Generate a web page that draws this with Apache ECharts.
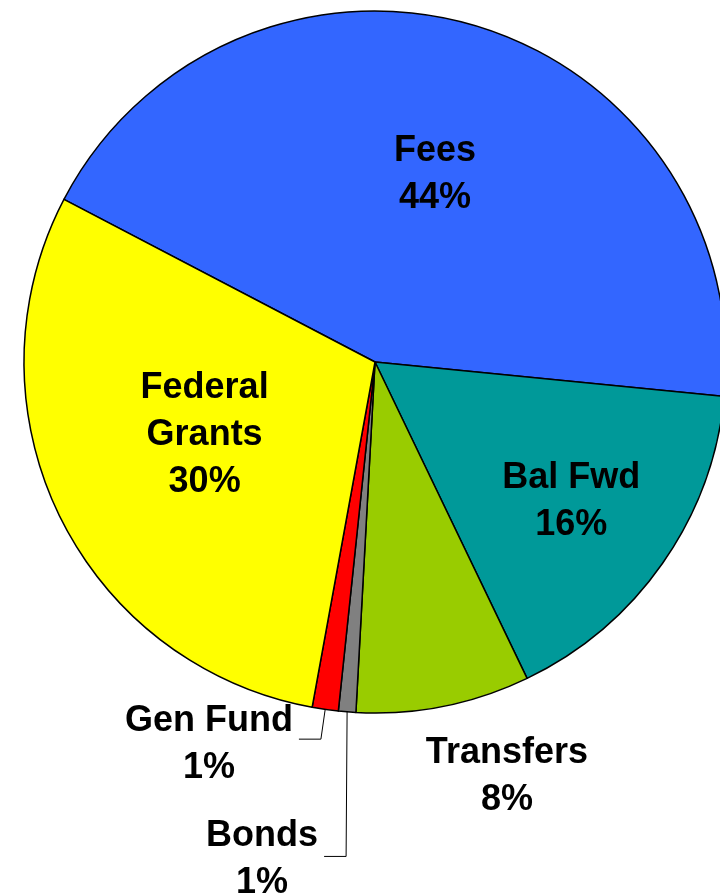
<!DOCTYPE html>
<html>
<head>
<meta charset="utf-8">
<script src="https://cdn.jsdelivr.net/npm/echarts@6/dist/echarts.min.js"></script>
<style>
html, body { margin: 0; padding: 0; background: #ffffff; }
#chart { width: 720px; height: 894px; }
</style>
</head>
<body>
<div id="chart"></div>
<script>
// ---- data ----
const categories = ['Fees', 'Bal Fwd', 'Transfers', 'Bonds', 'Gen Fund', 'Federal\nGrants'];
const shares = [43.9, 16.3, 8.0, 0.8, 1.2, 29.8];

// ---- styles ----
const sliceColors = ['#3366FF', '#009999', '#99CC00', '#808080', '#FF0000', '#FFFF00'];
const labelPlacement = [
  { mode: 'inside', offset: [9, -16] },
  { mode: 'inside', offset: [50, 37] },
  { mode: 'inside', offset: [97, 240] },
  { mode: 'line', length: 145, length2: 22, vertical: true, dy: 3 },
  { mode: 'line', length: 30, length2: 22, vertical: false, dy: 5 },
  { mode: 'inside', offset: [-10, -5] }
];

const chart = echarts.init(document.getElementById('chart'), null, { renderer: 'canvas' });

const seriesData = categories.map(function (name, i) {
  const cfg = labelPlacement[i];
  const item = {
    name: name,
    value: shares[i],
    itemStyle: { color: sliceColors[i] }
  };
  if (cfg.mode === 'inside') {
    item.label = { position: 'inside' };
    item.labelLine = { show: false };
  } else {
    item.label = { position: 'outside' };
    item.labelLine = { show: true, length: cfg.length, length2: cfg.length2 };
  }
  return item;
});

chart.setOption({
  animation: false,
  backgroundColor: '#ffffff',
  series: [{
    type: 'pie',
    center: [375, 362],
    radius: 351,
    startAngle: 152.4,
    clockwise: true,
    percentPrecision: 0,
    avoidLabelOverlap: false,
    emphasis: { disabled: true },
    itemStyle: { borderColor: '#000000', borderWidth: 1.5 },
    label: {
      show: true,
      formatter: '{b}\n{d}%',
      color: '#000000',
      fontFamily: '"Liberation Sans", Arial, sans-serif',
      fontWeight: 'bold',
      fontSize: 36,
      lineHeight: 47,
      textBorderWidth: 0,
      textShadowBlur: 0
    },
    labelLine: {
      lineStyle: { color: '#000000', width: 1 },
      smooth: false
    },
    labelLayout: function (params) {
      const cfg = labelPlacement[params.dataIndex];
      const r = params.labelRect;
      if (cfg.mode === 'inside') {
        return {
          x: r.x + r.width / 2 + cfg.offset[0],
          y: r.y + r.height / 2 + cfg.offset[1],
          align: 'center',
          verticalAlign: 'middle'
        };
      }
      const pts = params.labelLinePoints.map(function (p) { return p.slice(); });
      if (cfg.vertical) {
        pts[1][0] = pts[0][0] - 1;
        pts[2][0] = pts[1][0] - cfg.length2;
      }
      return {
        x: pts[2][0] - 6 - r.width / 2,
        y: pts[2][1] + cfg.dy,
        align: 'center',
        verticalAlign: 'middle',
        labelLinePoints: pts
      };
    },
    data: seriesData
  }]
});
</script>
</body>
</html>
